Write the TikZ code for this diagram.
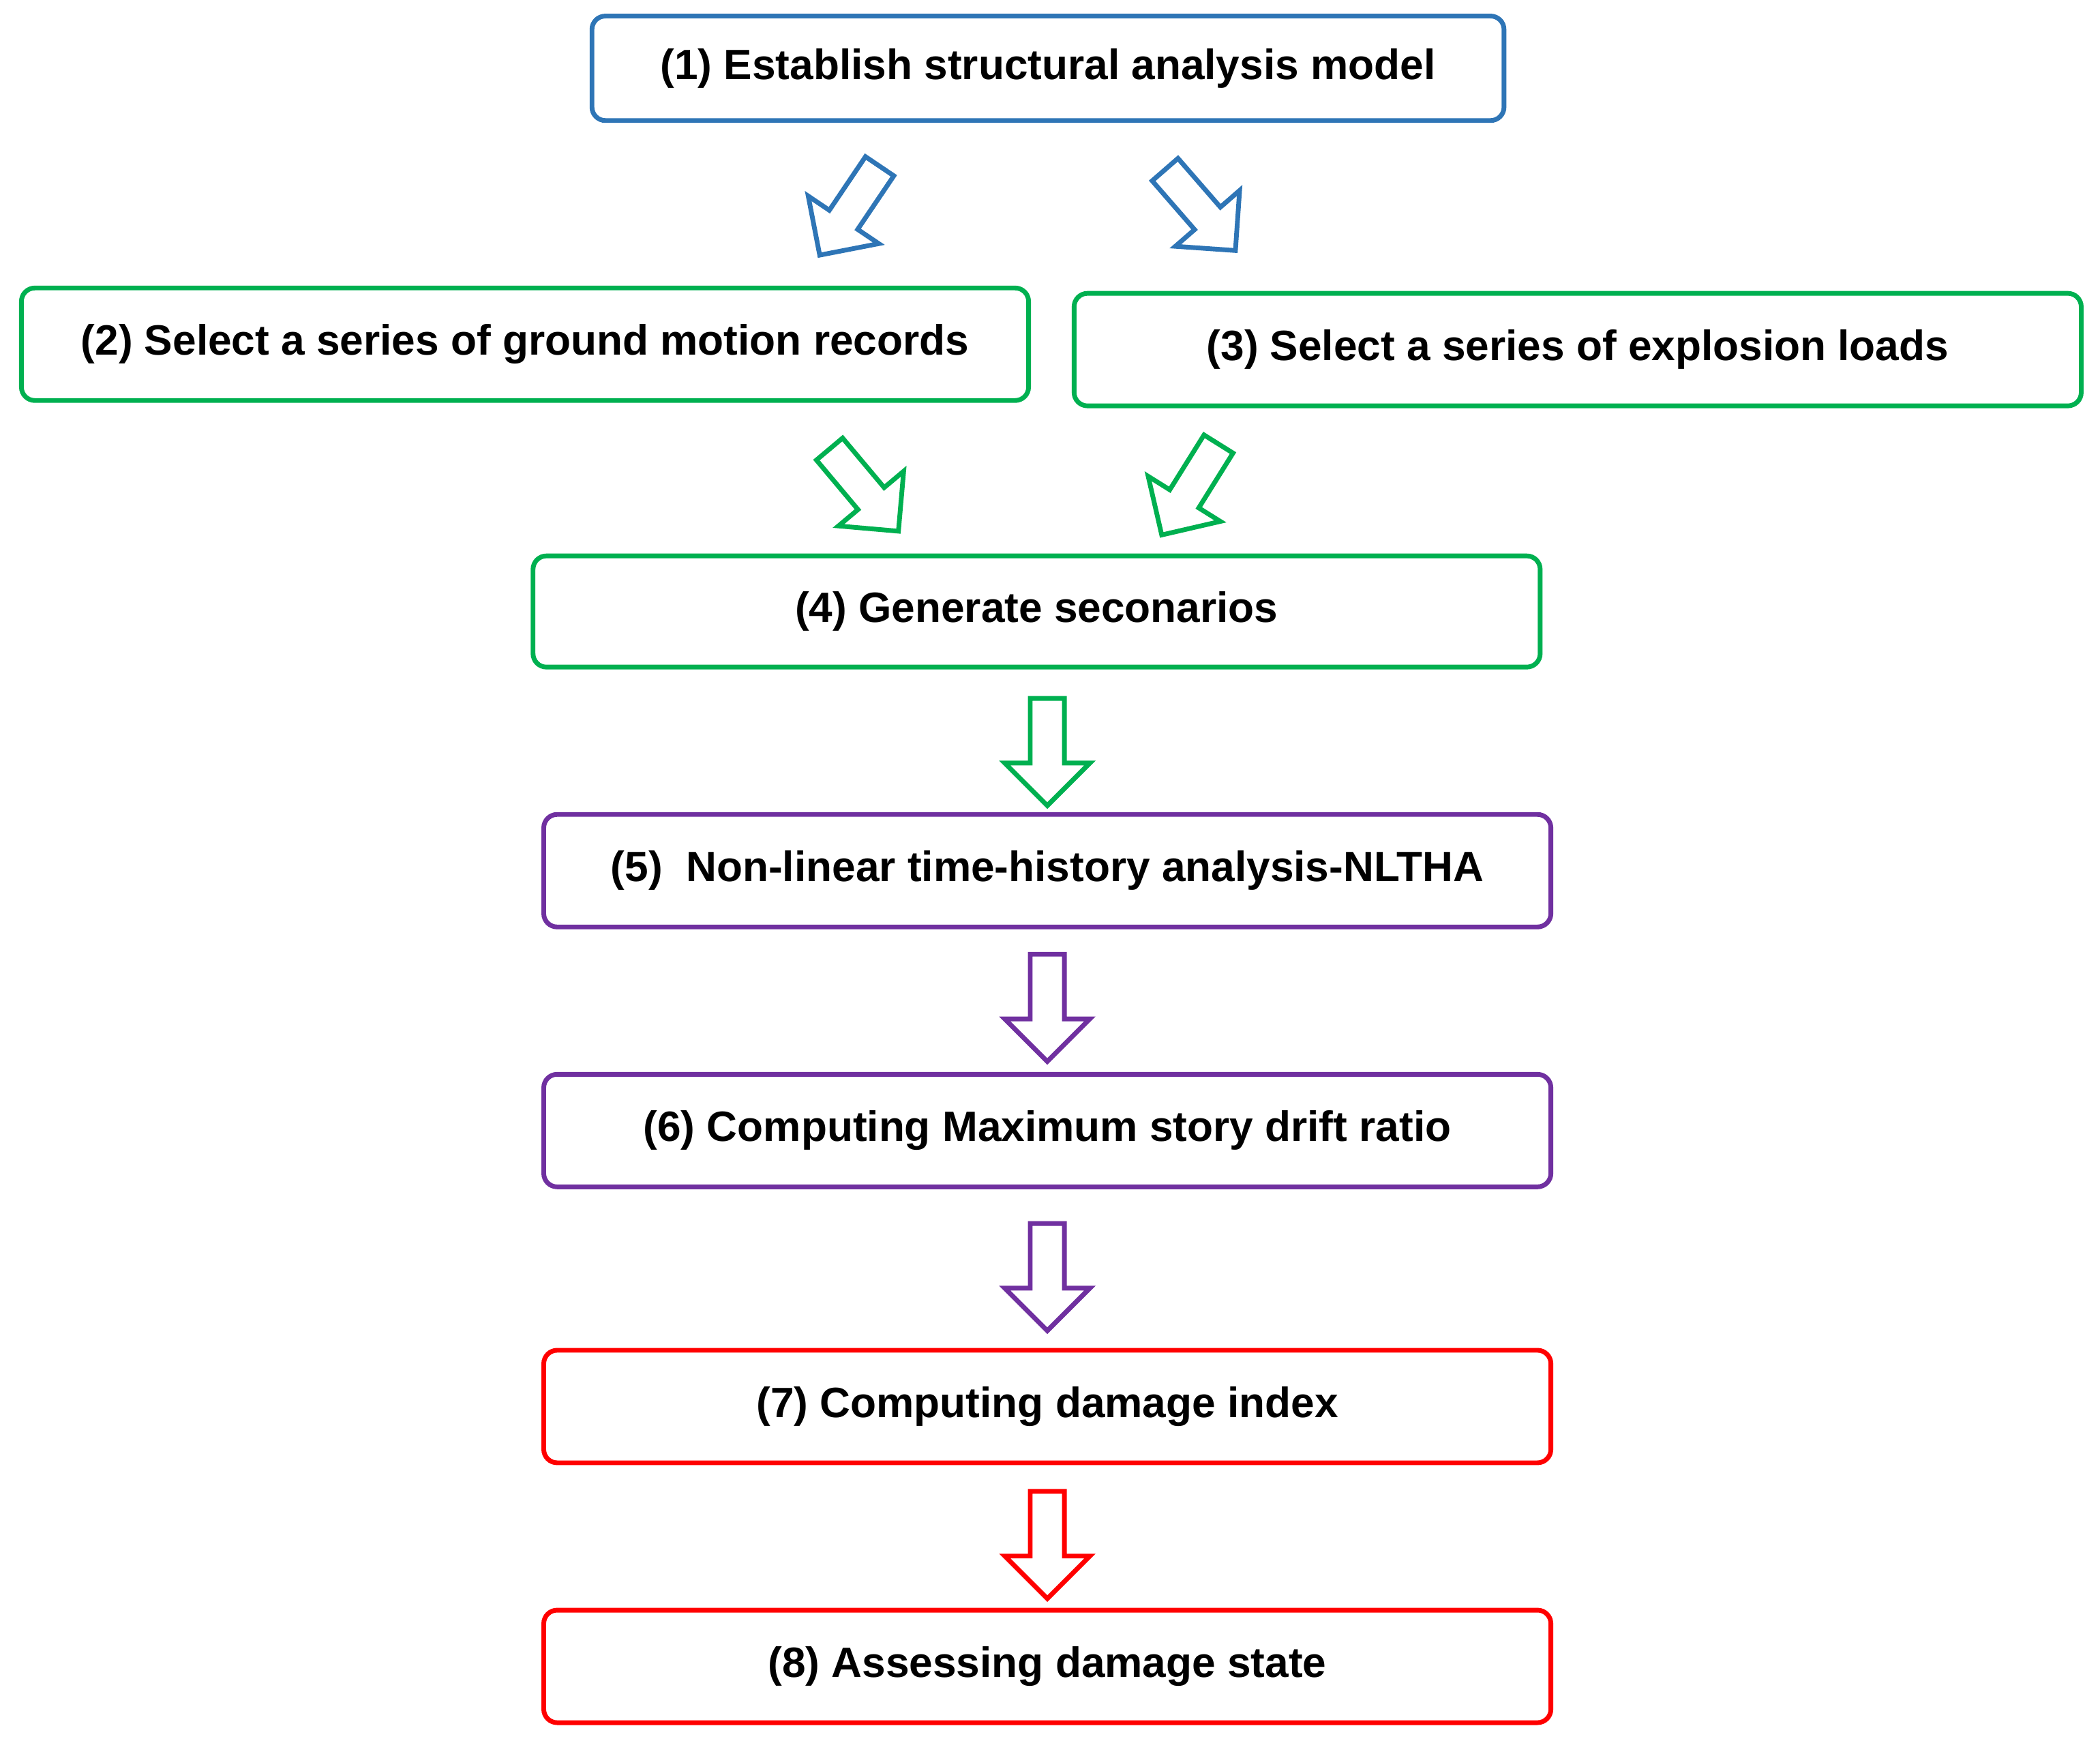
\documentclass[tikz,border=0pt]{standalone}
\usepackage{fontspec}
\setmainfont{Liberation Sans}
\usetikzlibrary{shapes.arrows}
\definecolor{cb}{RGB}{46,117,182}
\definecolor{cg}{RGB}{0,176,80}
\definecolor{cp}{RGB}{112,48,160}
\definecolor{cr}{RGB}{255,0,0}
\begin{document}
\begin{tikzpicture}[x=0.01cm,y=-0.01cm,
  box/.style={draw=#1,line width=1pt,rounded corners=0.1cm,font=\bfseries\fontsize{9}{11}\selectfont,text=black},
  arr/.style={draw=#1,line width=1pt,single arrow,single arrow head extend=0.19cm,single arrow head indent=0pt,inner sep=0.11cm,minimum height=0.8cm,fill=white}]
\useasboundingbox (0,0) rectangle (1568,1298);
\newcommand\bx[6]{\draw[box=#6] (#2,#3) rectangle (#4,#5); \node[font=\bfseries\fontsize{9}{11}\selectfont] (#1) at ({(#2+#4)/2},{(#3+#5)/2}) {};}
\draw[box=cb] (442,12) rectangle (1123,90) node[midway] (n1) {(1) Establish structural analysis model};
\draw[box=cg] (16,215) rectangle (768,299) node[midway] (n2) {(2) Select a series of ground motion records};
\draw[box=cg] (802,219) rectangle (1554,303) node[midway] (n3) {(3) Select a series of explosion loads};
\draw[box=cg] (398,415) rectangle (1150,498) node[midway] (n4) {(4) Generate seconarios};
\draw[box=cp] (406,608) rectangle (1158,692) node[midway] (n5) {(5)\ \ Non-linear time-history analysis-NLTHA};
\draw[box=cp] (406,802) rectangle (1158,886) node[midway] (n6) {(6) Computing Maximum story drift ratio};
\draw[box=cr] (406,1008) rectangle (1158,1092) node[midway] (n7) {(7) Computing damage index};
\draw[box=cr] (406,1202) rectangle (1158,1286) node[midway] (n8) {(8) Assessing damage state};
\node[arr=cb,rotate=-124] (a1) at (638,152) {};
\node[arr=cb,rotate=-49] (a2) at (892,152) {};
\node[arr=cg,rotate=-50] (a3) at (641,361) {};
\node[arr=cg,rotate=-122] (a4) at (892,360) {};
\node[arr=cg,rotate=-90] (a5) at (782,555) {};
\node[arr=cp,rotate=-90] (a6) at (782,746) {};
\node[arr=cp,rotate=-90] (a7) at (782,947) {};
\node[arr=cr,rotate=-90] (a8) at (782,1147) {};
\end{tikzpicture}
\end{document}
